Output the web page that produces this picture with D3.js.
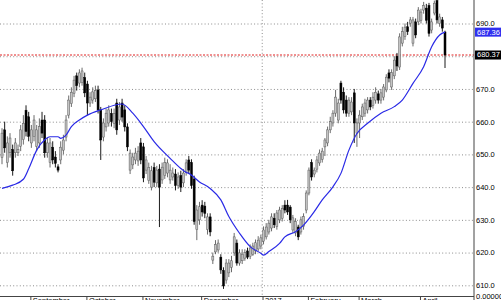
<!DOCTYPE html>
<html>
<head>
<meta charset="utf-8">
<script src="https://cdn.jsdelivr.net/npm/d3@7"></script>
<style>
  body { margin: 0; background: #fff; }
  svg { display: block; font-family: "Liberation Sans", Arial, sans-serif; }
</style>
</head>
<body>
<div id="chart"></div>
<script>
// daily bars: [open, high, low, close]
const ohlc = [
  [649, 658, 647, 656.5], [657.5, 660, 650.5, 652], [647.5, 655.5, 646, 653.5], [650.5, 656.5, 649, 655], [651.5, 653, 643.5, 645],
  [650.5, 655, 649, 653.5], [650.5, 653, 649.5, 651.5], [652.5, 659, 651, 657.5], [654.5, 662, 653, 659.5], [663.5, 665, 655.5, 657],
  [661.5, 663, 654, 655.5], [653.5, 659, 652, 657.5], [655.5, 662, 654, 660.5], [652.5, 659, 651, 657.5], [653.5, 661, 652, 658.5],
  [660.5, 663, 655, 656.5], [660.5, 662, 649, 650.5], [650.5, 655, 649, 653.5], [647.5, 655, 646, 653.5], [652.2, 654, 647, 648.3],
  [649.2, 651, 646, 647.3], [646.2, 647, 644.5, 645.2], [648.3, 654, 647, 652.2], [651.3, 656, 650, 654.4], [655.3, 662, 654, 660.5],
  [662, 668, 661, 666.6], [665.5, 670.5, 664.5, 669], [668.7, 674, 667.5, 672.7], [674, 675, 669.5, 671], [671.8, 676, 670.5, 674.9],
  [672, 676.5, 671, 675.5], [673.5, 675, 667.5, 668.8], [671.5, 672.5, 662, 665.7], [665.7, 669, 664.5, 667.5], [666.6, 670.5, 665.5, 669.1],
  [667, 671, 666, 669.5], [669.7, 671, 662.5, 663.6], [663.6, 664.5, 648.3, 654.4], [655.3, 661, 654, 659.6], [658.4, 664, 657, 662.6],
  [659.6, 665, 658.5, 663.6], [662.5, 664, 658.5, 660], [659.5, 664, 658, 662.5], [665.7, 667, 656, 657.5], [660.5, 666, 659, 664.5],
  [665.7, 667, 660, 661.4], [663.6, 665, 657, 658.4], [658.4, 659.5, 651, 652.3], [645.2, 651.5, 644, 650.4], [646.8, 650.5, 645.5, 649.2],
  [648.3, 652, 647, 650.4], [648, 652.5, 646.5, 651], [653.5, 655, 647, 648.3], [652.3, 653.5, 641.5, 642.8], [645.2, 649.5, 644, 648.3],
  [642, 647.5, 641, 646], [640, 646.5, 639, 645], [646, 647.5, 640, 641.5], [641.3, 646.5, 640, 645.2], [645.5, 647, 627.8, 640],
  [642.2, 647.5, 641, 646.1], [643.5, 649, 642.5, 647.5], [644.3, 648.5, 643, 647.4], [642.2, 647, 641, 645.2], [643.1, 646, 642, 644.3],
  [644, 645.5, 639, 640.5], [640.5, 644.5, 639.5, 643.1], [643.5, 645, 638.5, 640], [641.3, 645.5, 640, 644.3], [644.6, 648.5, 643.5, 647.4],
  [648.3, 649.5, 644, 645.2], [647.5, 648.5, 639.5, 640.5], [642.5, 643.5, 628.5, 629.5], [627, 634.5, 623.8, 633], [630, 635.5, 628.5, 634],
  [634.5, 636, 631, 632.4], [634.2, 635.5, 630.5, 632], [627, 632, 625.5, 630.9], [630.9, 632, 625, 626.3], [617.7, 620, 616.5, 618.9],
  [620.2, 623.8, 619.5, 622.5], [620.8, 624, 620, 622.9], [618.6, 619.5, 613.5, 614.7], [614.5, 615.5, 608.9, 609.8], [611.6, 618, 610.5, 616.8],
  [613.8, 618, 612.5, 616.8], [615.5, 619, 614, 617.5], [619.9, 626, 619, 624.8], [622.9, 624, 616, 616.8], [616.8, 621, 616, 619.9],
  [617.5, 621, 616.5, 619.5], [618.3, 621, 617.5, 620], [620.5, 621.5, 618, 618.6], [618.9, 622.5, 618, 621.4], [619.5, 623, 619, 622],
  [620.5, 624, 619.5, 623], [621.1, 625, 620.5, 623.8], [622, 625.5, 621, 624.5], [623.5, 628, 622.5, 626.9], [624.8, 629, 624, 627.8],
  [626.3, 630, 625.5, 629], [627.5, 632, 626.5, 630.9], [630.5, 632, 627.5, 628.5], [628, 633, 627, 632.1], [630, 634, 629, 633],
  [630.5, 634.5, 629.5, 633.5], [634.5, 636, 632, 633], [634.5, 636.1, 631.5, 632.4], [633.9, 634.5, 629, 630], [626.9, 631.5, 626, 630.6],
  [626, 630.5, 625, 629.5], [627.8, 628.5, 623.8, 624.8], [626.3, 631, 625.5, 630], [628, 632, 627, 631], [633, 639, 632, 638.2],
  [638.2, 646, 637.5, 645.2], [647.5, 648.5, 642, 643.1], [644, 646, 643, 645.2], [645.5, 649.5, 644.5, 648.3], [647.4, 651.5, 646.5, 650.4],
  [648.5, 652, 647.5, 651], [652.3, 655, 649.5, 654.4], [653.5, 658.5, 652.5, 657.5], [657.5, 661.5, 656.5, 660], [659.6, 663.5, 658.5, 662.6],
  [662.6, 669.7, 661.5, 667.5], [660.5, 667, 659.5, 665.7], [671.8, 672.5, 665.5, 666.6], [669, 670.5, 662.5, 663.6], [666.6, 668, 661.5, 662.6],
  [662.6, 667.5, 661.5, 666.6], [663, 667.5, 662, 666], [668.8, 670, 653.5, 659.6], [656.5, 661, 652.3, 659.6], [659.6, 663.5, 655, 662],
  [661.5, 665.5, 660.5, 664.5], [662.6, 667, 661.5, 665.7], [663.6, 667.5, 662.5, 666.6], [666.6, 667.5, 663.5, 664.5], [665, 669, 664, 667.5],
  [666.6, 670.5, 665.5, 669], [668.5, 669.5, 665.5, 666.6], [666.6, 670, 665.5, 668.8], [667.5, 671.5, 666.5, 670.6], [669.7, 674.5, 669, 673.6],
  [674.9, 676, 672, 673.3], [670.6, 676, 669.7, 675], [674, 680, 673, 678.8], [680, 681, 675.5, 677], [676.7, 687, 675.8, 685.9],
  [684, 689, 683, 687.5], [686, 690, 685, 688.9], [689, 690.5, 686.5, 687.5], [690.1, 692, 689, 691.1], [684, 692, 683, 691.1],
  [690.5, 691.5, 685.5, 686.5], [690.5, 695, 689.5, 694.1], [691, 694.5, 690, 693.5], [694.1, 696.6, 693, 695.5], [694.7, 696, 690, 691],
  [695.5, 696.3, 686, 687], [688, 691.5, 687, 690.5], [693.2, 697, 692.5, 696.2], [697, 697.5, 690, 691.1], [690, 693, 689, 692],
  [691.1, 692, 687.5, 688.6], [687.4, 687.8, 676.4, 680.37]
];

// moving average, by bar index
const maIndex = [0, 4, 8, 10, 13, 16, 18, 21, 22, 24, 26, 29, 32, 37, 45, 49, 53, 57, 63, 67, 69, 70, 74, 78, 82, 85,
  89, 93, 97, 98, 100, 104, 106, 110, 113, 117, 120, 124, 127, 130, 133, 137, 142, 147, 150, 154, 158, 161, 164, 166];
const maValue = [639.6, 640.6, 642.4, 645.6, 651.3, 654.5, 655.4, 655.4, 654.9, 655.9, 658.5, 660.5, 662, 663.6, 665.4, 662.6, 658.5, 653.9, 648.8, 645.7, 644.5, 644.2, 641.6, 639.6, 636.1, 631,
  625.9, 621.8, 619.8, 619.2, 620.3, 622.8, 624.8, 626.4, 628.4, 632.5, 636.1, 640.1, 644.2, 651.3, 656.4, 659.5, 662.6, 664.6, 666.6, 671.7, 676.8, 682.9, 686.5, 687.36];

const monthLabels = ["September", "October", "November", "December", "2017", "February", "March", "April"];
const monthStart = [11, 32, 53, 75, 98, 115, 134, 157];
const yTicks = [610, 620, 630, 640, 650, 660, 670, 680, 690];
const lastClose = 680.37;
const lastMa = 687.36;
const yearBreak = 98;

var width = 501, height = 300;
var plotRight = 474, plotBottom = 296.5;

var svg = d3.select("#chart").append("svg")
    .attr("width", width)
    .attr("height", height);

var x = d3.scaleLinear()
    .domain([0, ohlc.length - 1])
    .range([2, 445]);

var y = d3.scaleLinear()
    .domain([610, 690])
    .range([285.3, 23.5]);

// horizontal dotted grid + right labels
var yAxis = d3.axisRight(y)
    .tickValues(yTicks)
    .tickSize(plotRight)
    .tickPadding(2)
    .tickFormat(d3.format(".1f"));

var gY = svg.append("g")
    .attr("class", "axis axis--y")
    .call(yAxis);
gY.select(".domain").remove();
gY.selectAll("line")
    .attr("stroke", "#8c8c8c")
    .attr("stroke-dasharray", "1,2.3");
gY.selectAll("text")
    .attr("fill", "#000")
    .style("font-size", "7.5px")
    .filter(function (d) { return d === 680; })
    .remove();

// year separator
svg.append("line")
    .attr("x1", x(yearBreak) - 1.3).attr("x2", x(yearBreak) - 1.3)
    .attr("y1", 0).attr("y2", plotBottom)
    .attr("stroke", "#8c8c8c")
    .attr("stroke-dasharray", "1,2.3");

// last close line
svg.append("line")
    .attr("x1", 0).attr("x2", plotRight)
    .attr("y1", y(lastClose)).attr("y2", y(lastClose))
    .attr("stroke", "#e02020")
    .attr("stroke-dasharray", "2,1.5");

// candles
var bar = svg.append("g").classed("candles", true)
    .selectAll("g")
    .data(ohlc)
    .enter().append("g");

bar.append("line")
    .attr("x1", function (d, i) { return x(i); })
    .attr("x2", function (d, i) { return x(i); })
    .attr("y1", function (d) { return y(d[1]); })
    .attr("y2", function (d) { return y(d[2]); })
    .attr("stroke", function (d) { return d[3] >= d[0] ? "#5a5a5a" : "#000"; })
    .attr("stroke-width", 0.9);

bar.append("rect")
    .attr("x", function (d, i) { return x(i) - 1; })
    .attr("width", 2)
    .attr("y", function (d) { return y(Math.max(d[0], d[3])); })
    .attr("height", function (d) { return Math.max(0.8, Math.abs(y(d[0]) - y(d[3]))); })
    .attr("fill", function (d) { return d[3] >= d[0] ? "#c4c4c4" : "#000"; })
    .attr("stroke", function (d) { return d[3] >= d[0] ? "#5a5a5a" : "#000"; })
    .attr("stroke-width", 0.5);

// moving average
var maLine = d3.line()
    .x(function (d) { return x(d[0]); })
    .y(function (d) { return y(d[1]); })
    .curve(d3.curveMonotoneX);

svg.append("path")
    .datum(d3.zip(maIndex, maValue))
    .attr("d", maLine)
    .attr("fill", "none")
    .attr("stroke", "#2a2ae6")
    .attr("stroke-width", 1.2);

// frame
svg.append("line")
    .attr("x1", plotRight).attr("x2", plotRight)
    .attr("y1", 0).attr("y2", height)
    .attr("stroke", "#444");
svg.append("line")
    .attr("x1", 0).attr("x2", plotRight)
    .attr("y1", plotBottom).attr("y2", plotBottom)
    .attr("stroke", "#444");

// month axis (labels sit just under the frame, mostly clipped like the source)
var xAxis = d3.axisBottom(x)
    .tickValues(monthStart)
    .tickSize(4)
    .tickPadding(-3)
    .tickFormat(function (d, i) { return monthLabels[i]; });

var gX = svg.append("g")
    .attr("class", "axis axis--x")
    .attr("transform", "translate(-1," + plotBottom + ")")
    .call(xAxis);
gX.select(".domain").remove();
gX.selectAll("line").attr("stroke", "#444");
gX.selectAll("text")
    .attr("text-anchor", "start")
    .attr("dx", 2)
    .attr("fill", "#000")
    .style("font-size", "7.5px");

// value tags on the right
function tag(v, bg) {
    var g = svg.append("g").attr("transform", "translate(" + (plotRight + 1) + "," + y(v) + ")");
    g.append("rect").attr("x", 0).attr("y", -4.5).attr("width", 26).attr("height", 9).attr("fill", bg);
    g.append("text").attr("x", 2).attr("dy", "0.32em").attr("fill", "#fff")
        .style("font-size", "7.5px").text(v.toFixed(2));
}
tag(lastMa, "#2f2ff0");
tag(lastClose, "#000");

svg.append("text")
    .attr("x", plotRight + 2).attr("y", height - 1)
    .attr("fill", "#000")
    .style("font-size", "7.5px")
    .text("0.00000");
</script>
</body>
</html>
